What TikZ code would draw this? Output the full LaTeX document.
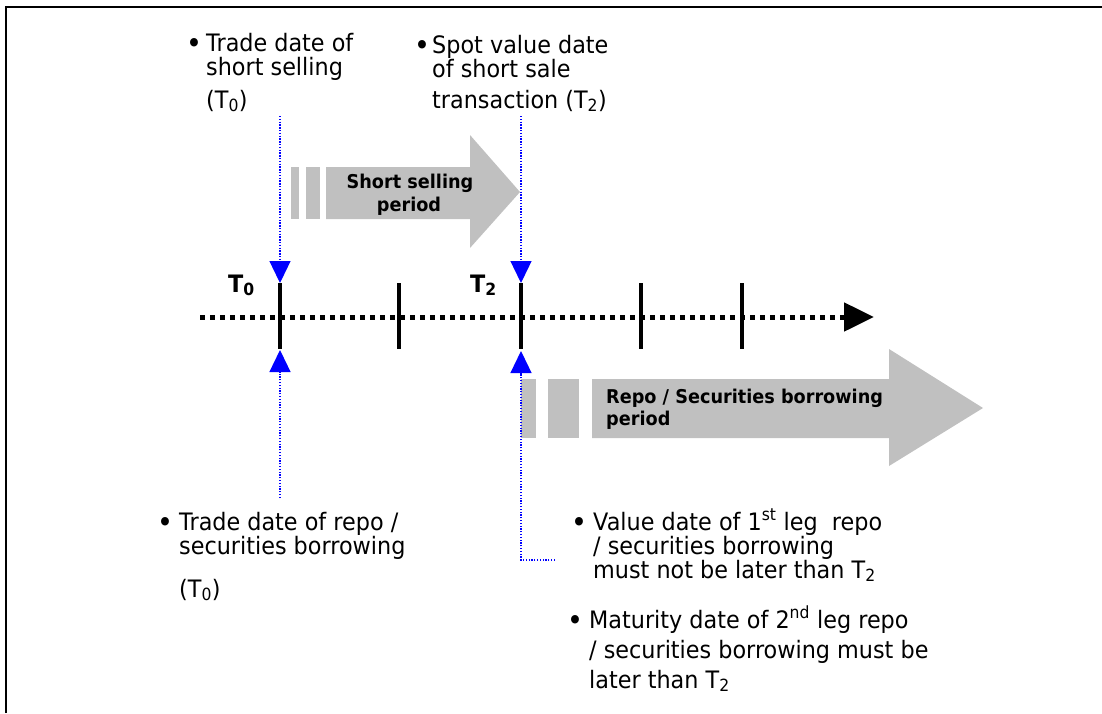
\documentclass[tikz,border=0pt]{standalone}
\usepackage{fontspec}
\setmainfont[FakeStretch=0.93]{DejaVu Sans}
\usepackage{xcolor}
\usetikzlibrary{arrows.meta,positioning}
\definecolor{periodgray}{RGB}{192,192,192}
\newcommand{\bul}[1]{\llap{\raisebox{-2.5pt}{\fontsize{29}{24}\selectfont\textbullet}\hspace{#1}}}
\tikzset{
	% The bullet texts round the time line (placed at the baseline of their last line)
	note/.style={
		anchor=base west,inner sep=0pt,align=left,font=\fontsize{24}{24}\selectfont
	},
	% The grey period arrows
	period/.style={
		fill=periodgray,draw=none
	},
	% The text inside the period arrows
	periodtext/.style={
		inner sep=0pt,font=\fontsize{19}{22}\selectfont\bfseries
	},
	% The blue dotted pointers to the dates
	pointer/.style={
		draw=blue,line width=1.3pt,dash pattern=on 1.3pt off 1.5pt,
		-{Triangle[width=21pt,length=22pt]}
	},
	% The time line
	timeline/.style={
		line width=5pt,dash pattern=on 5pt off 5pt,
		-{Triangle[width=28pt,length=30pt]}
	},
	% The day marks on the time line
	daymark/.style={
		line width=3.5pt
	},
	% The date labels on the time line
	datelabel/.style={
		anchor=base west,inner sep=0pt,font=\fontsize{24}{24}\selectfont\bfseries
	},
}

\begin{document}
\begin{tikzpicture}[x=1pt,y=-1pt]
	\useasboundingbox (0,0) rectangle (1102,713);
	\draw [line width=2pt] (6,713) -- (6,7) -- (1102,7);

	% Short selling period
	\fill [period] (291,167) rectangle (299,219);
	\fill [period] (306,167) rectangle (320,219);
	\fill [period] (326,167) -- (470,167) -- (470,135) -- (520,192) -- (470,248) -- (470,219) -- (326,219) -- cycle;
	\node [periodtext,anchor=base] (Short selling) at (410,188) {Short selling};
	\node [periodtext,anchor=base] (Short period) at (409,211) {period};

	% Repo period
	\fill [period] (521,379) rectangle (536,438);
	\fill [period] (548,379) rectangle (579,438);
	\fill [period] (592,379) -- (889,379) -- (889,349) -- (983,408) -- (889,466) -- (889,438) -- (592,438) -- cycle;
	\node [periodtext,anchor=base west,align=left] (Repo period) at (606,425) {Repo / Securities borrowing\\period};

	% Time line
	\coordinate (Line start) at (200,317);
	\coordinate (Line end) at (874,317);
	\draw [timeline] (Line start) -- (Line end);
	\foreach \x in {280,399,521,641,742}
		\draw [daymark] (\x,283) -- (\x,349);
	\node [datelabel] (T0) at (228,292) {T\textsubscript{0}};
	\node [datelabel] (T2) at (470,292) {T\textsubscript{2}};

	% Dates
	\coordinate (T0 top) at (280,283);
	\coordinate (T0 bottom) at (280,350);
	\coordinate (T2 top) at (521,283);
	\coordinate (T2 bottom) at (521,351);

	\node [note] (Trade short) at (206,108) {\bul{4pt}Trade date of\\short selling\\[9pt](T\textsubscript{0})};
	\node [note] (Spot value) at (432,108) {\bul{2pt}Spot value date\\of short sale\\[7pt]transaction (T\textsubscript{2})};
	\node [note] (Trade repo) at (179,597) {\bul{6pt}Trade date of repo /\\securities borrowing\\[19pt](T\textsubscript{0})};
	\node [note] (Value date) at (593,578) {\bul{6pt}Value date of 1\textsuperscript{st} leg\ \ repo\\/ securities borrowing\\must not be later than T\textsubscript{2}};
	\node [note] (Maturity) at (589,688) {\bul{6pt}Maturity date of 2\textsuperscript{nd} leg repo\\[6pt]/ securities borrowing must be\\[6pt]later than T\textsubscript{2}};

	\coordinate (Trade short foot) at (280,116);
	\coordinate (Spot value foot) at (521,116);
	\coordinate (Trade repo foot) at (280,498);
	\coordinate (Value date bend) at (521,560);
	\coordinate (Value date foot) at (555,560);

	\draw [pointer] (Trade short foot) -- (T0 top);
	\draw [pointer] (Spot value foot) -- (T2 top);
	\draw [pointer] (Trade repo foot) -- (T0 bottom);
	\draw [pointer] (Value date foot) -- (Value date bend) -- (T2 bottom);
\end{tikzpicture}
\end{document}
